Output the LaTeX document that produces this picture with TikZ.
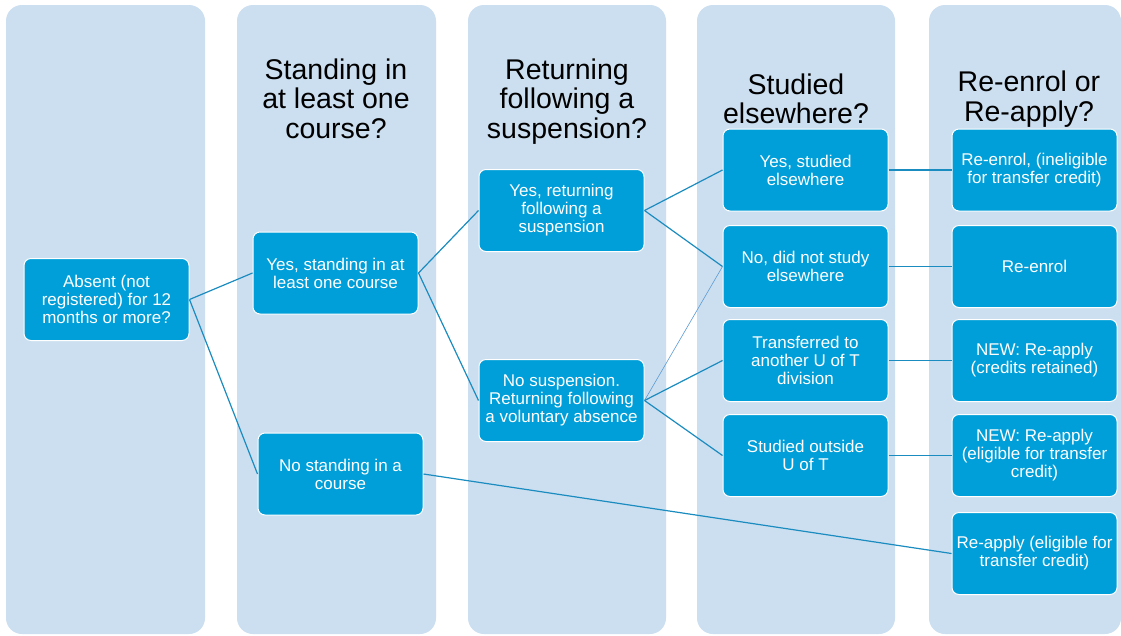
\documentclass[tikz,border=0pt]{standalone}
\usepackage{fontspec}
\setmainfont{Liberation Sans}
\definecolor{colbg}{HTML}{CCDFF0}
\definecolor{boxfill}{HTML}{009FD9}
\definecolor{linec}{HTML}{1A8CC0}
\definecolor{thinc}{HTML}{5B9BD5}
\begin{document}
\begin{tikzpicture}[x=1pt,y=-1pt,
  column/.style={fill=colbg,draw=none,rounded corners=16pt},
  title/.style={font=\fontsize{28.5}{29.5}\selectfont,align=center,text=black,inner sep=0pt},
  box/.style={fill=boxfill,draw=white,line width=1pt,rounded corners=7pt,
    minimum width=165pt,minimum height=82pt,text=white,align=center,
    font=\fontsize{17}{18}\selectfont,inner sep=2pt},
  conn/.style={draw=linec,line width=1.2pt},
  thinconn/.style={draw=thinc,line width=0.6pt}]
\useasboundingbox (0,0) rectangle (1121,635);
\fill[white] (0,0) rectangle (1121,635);
% columns
\path[column] (6,5) rectangle (205,634);
\path[column] (237,5) rectangle (436,634);
\path[column] (468,5) rectangle (666,634);
\path[column] (697,5) rectangle (895,634);
\path[column] (929,5) rectangle (1121,634);
% titles
\node[title] (t2) at (336,98.5) {Standing in\\at least one\\course?};
\node[title] (t3) at (567,101.5) {Returning\\following a\\suspension?};
\node[title] (t4) at (796,99) {Studied\\elsewhere?};
\node[title] (t5) at (1029,99) {Re-enrol or\\Re-apply?};
% boxes
\node[box] (A) at (106.5,299.5) {Absent (not\\registered) for 12\\months or more?};
\node[box] (B) at (335.5,273) {Yes, standing in at\\least one course};
\node[box] (C) at (340.5,474) {No standing in a\\course};
\node[box] (D) at (561.5,210.5) {Yes, returning\\following a\\suspension};
\node[box] (E) at (561.5,400.5) {No suspension.\\Returning following\\a voluntary absence};
\node[box] (F) at (805.5,170) {Yes, studied\\elsewhere};
\node[box] (G) at (805.5,266.5) {No, did not study\\elsewhere};
\node[box] (H) at (805.5,360.5) {Transferred to\\another U of T\\division};
\node[box] (I) at (805.5,455.5) {Studied outside\\U of T};
\node[box] (J) at (1034.5,170) {Re-enrol, (ineligible\\for transfer credit)};
\node[box] (K) at (1034.5,266.5) {Re-enrol};
\node[box] (L) at (1034.5,360.5) {NEW: Re-apply\\(credits retained)};
\node[box] (M) at (1034.5,455.5) {NEW: Re-apply\\(eligible for transfer\\credit)};
\node[box] (N) at (1034.5,553.5) {Re-apply (eligible for\\transfer credit)};
% connectors
\draw[conn] (A.east) -- (B.west);
\draw[conn] (A.east) -- (C.west);
\draw[conn] (B.east) -- (D.west);
\draw[conn] (B.east) -- (E.west);
\draw[conn] (D.east) -- (F.west);
\draw[conn] (D.east) -- (G.west);
\draw[thinconn] (E.east) -- (G.west);
\draw[conn] (E.east) -- (H.west);
\draw[conn] (E.east) -- (I.west);
\draw[conn] (F.east) -- (J.west);
\draw[conn] (G.east) -- (K.west);
\draw[conn] (H.east) -- (L.west);
\draw[conn] (I.east) -- (M.west);
\draw[conn] (C.east) -- (N.west);
\end{tikzpicture}
\end{document}
